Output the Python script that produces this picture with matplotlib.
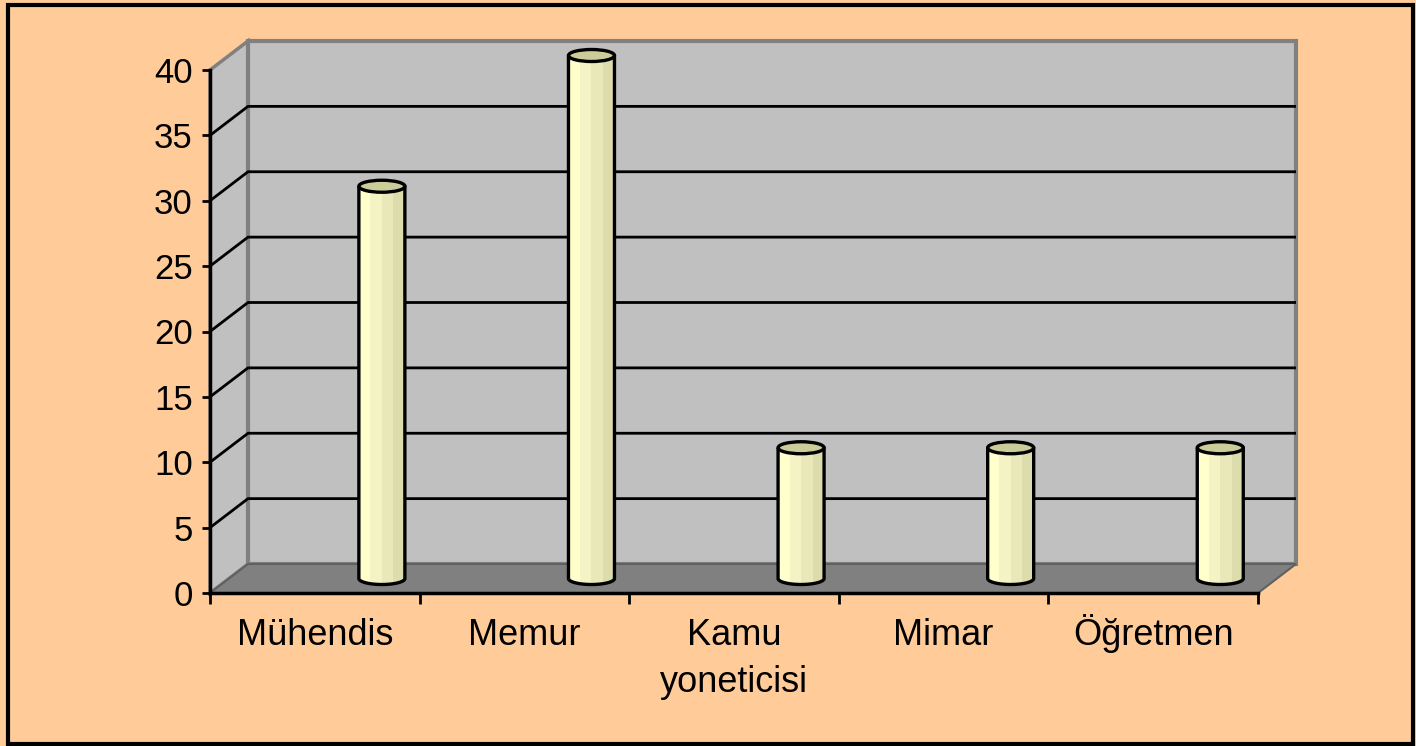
import numpy as np
import matplotlib.pyplot as plt
from matplotlib.patches import Polygon, Ellipse, PathPatch, Rectangle
from matplotlib.path import Path

plt.rcParams['font.family'] = ['Liberation Sans', 'DejaVu Sans']

# data
categories = ["Mühendis", "Memur", "Kamu\nyoneticisi", "Mimar", "Öğretmen"]
values = [30, 40, 10, 10, 10]
y_ticks = [0, 5, 10, 15, 20, 25, 30, 35, 40]

# style
BG = "#FFCC99"
WALL = "#C0C0C0"
FLOOR = "#808080"
EDGE = "#808080"
STRIPES = ["#FFFFCC", "#F3F3C5", "#E8E8B9", "#DCDCAC"]
TOP = "#CCCC99"

W, H = 1416, 746
fig = plt.figure(figsize=(W / 100, H / 100), dpi=100, facecolor=BG)
ax = fig.add_axes([210 / W, 153 / H, 1048 / W, 523 / H])
ax.set_facecolor("none")
n = len(categories)
ymax = 40
ax.set_xlim(0, n)
ax.set_ylim(0, ymax)

# depth offset of the back wall, in data units
px_x = 1048 / n
px_y = 523 / ymax
dx = 38 / px_x
dy = 29 / px_y

# side wall, back wall, floor
ax.add_patch(Polygon([(0, 0), (dx, dy), (dx, ymax + dy), (0, ymax)],
                     closed=True, fc=WALL, ec=EDGE, lw=2.5, zorder=1, clip_on=False))
ax.add_patch(Polygon([(dx, dy), (n + dx, dy), (n + dx, ymax + dy), (dx, ymax + dy)],
                     closed=True, fc=WALL, ec=EDGE, lw=3, zorder=1, clip_on=False))
ax.add_patch(Polygon([(0, 0), (n, 0), (n + dx, dy), (dx, dy)],
                     closed=True, fc=FLOOR, ec="#606060", lw=1.5, zorder=1.2, clip_on=False))

# gridlines
for v in y_ticks[1:-1]:
    ax.plot([0, dx, n + dx], [v, v + dy, v + dy], color="black", lw=2,
            zorder=1.1, clip_on=False, solid_capstyle="butt")

# cylinders
bw = 46 / px_x
eh = 12 / px_y
shift = 0.32
t = np.linspace(0, -np.pi, 60)
for i, v in enumerate(values):
    cx = i + 0.5 + shift
    y0 = dy / 2
    y1 = v + dy / 2
    verts = [(cx - bw / 2, y1), (cx + bw / 2, y1)]
    verts += [(cx + bw / 2 * np.cos(a), y0 + eh / 2 * np.sin(a)) for a in t]
    verts.append((cx - bw / 2, y1))
    body = Path(verts, closed=False)
    clip = PathPatch(body, fc="none", ec="none", transform=ax.transData)
    ax.add_patch(clip)
    sw = bw / len(STRIPES)
    for k, c in enumerate(STRIPES):
        r = Rectangle((cx - bw / 2 + k * sw, y0 - eh), sw * 1.02, v + eh * 2,
                      fc=c, ec="none", zorder=3)
        ax.add_patch(r)
        r.set_clip_path(clip)
        r.set_clip_box(None)
    ax.add_patch(PathPatch(body, fc="none", ec="black", lw=2.4, zorder=4,
                           clip_on=False, joinstyle="round"))
    ax.add_patch(Ellipse((cx, y1), bw, eh, fc=TOP, ec="black", lw=2.4,
                         zorder=5, clip_on=False))

# axes
for s in ["top", "right"]:
    ax.spines[s].set_visible(False)
for s in ["left", "bottom"]:
    ax.spines[s].set_color("black")
    ax.spines[s].set_linewidth(2.5)
    ax.spines[s].set_zorder(6)

ax.set_yticks(y_ticks)
ax.set_yticklabels([str(v) for v in y_ticks])
ax.tick_params(axis="y", length=6, width=2, pad=6.5, labelsize=25)
ax.set_xticks(range(n + 1))
ax.set_xticklabels([])
ax.set_xticks(np.arange(n) + 0.5, minor=True)
ax.set_xticklabels(categories, minor=True, linespacing=1.45)
ax.tick_params(axis="x", which="major", length=8, width=2)
ax.tick_params(axis="x", which="minor", length=0, pad=37.5, labelsize=26)
# baseline alignment keeps Ö in line; extra lines pushed down
line_gap = 47.3 / 523
for lab in ax.get_xticklabels(minor=True):
    lab.set_verticalalignment("baseline")
    lab.set_y(-line_gap * lab.get_text().count("\n"))

# outer frame
fig.add_artist(Rectangle((8 / W, 2 / H), 1405 / W, 739 / H, transform=fig.transFigure,
                         fill=False, ec="black", lw=3))

fig.savefig("out.png", dpi=100, facecolor=BG)
